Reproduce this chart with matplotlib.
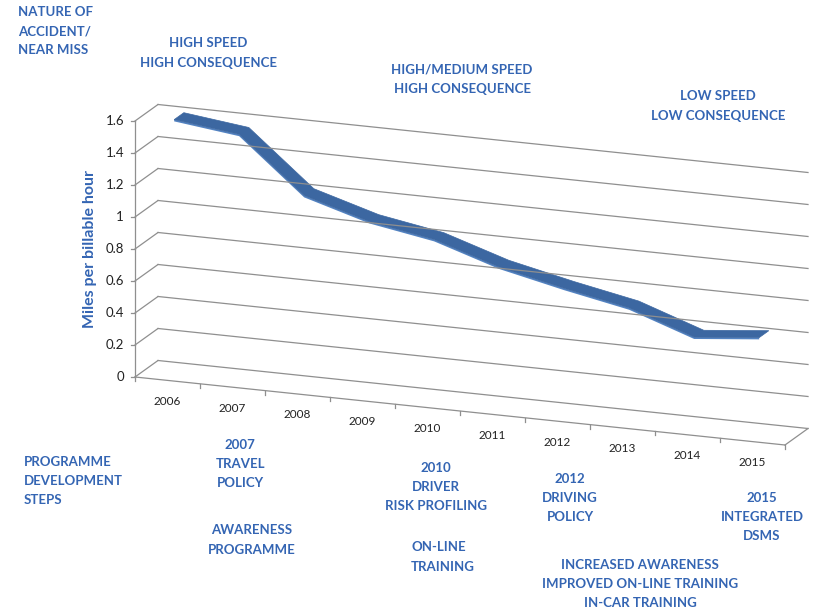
import numpy as np
import matplotlib
matplotlib.use("Agg")
import matplotlib.pyplot as plt
from matplotlib.transforms import Affine2D
from matplotlib.patches import Polygon

years = ["2006", "2007", "2008", "2009", "2010", "2011", "2012", "2013", "2014", "2015"]
miles = [1.60, 1.55, 1.21, 1.09, 1.02, 0.89, 0.80, 0.72, 0.58, 0.62]
y_ticks = [0, 0.2, 0.4, 0.6, 0.8, 1, 1.2, 1.4, 1.6]
y_labels = ["0", "0.2", "0.4", "0.6", "0.8", "1", "1.2", "1.4", "1.6"]

BLUE = "#3465b3"
GRID = "#8f8f8f"
plt.rcParams['font.family'] = ['Lato', 'DejaVu Sans']

fig = plt.figure(figsize=(8.13, 6.11), dpi=100)
ax = fig.add_axes([0, 0, 1, 1])
ax.set_xlim(0, 813)
ax.set_ylim(611, 0)
ax.axis('off')


def proj(d):
    # fake excel 3d: category index / value / depth (0 front, 1 back) -> figure frame
    return Affine2D(np.array([[65.0, 0.0, 135 + 23 * d],
                              [6.8, -160.0, 377 - 16.5 * d],
                              [0.0, 0.0, 1.0]]))


front, back = proj(0), proj(1)
n = len(years)


def seg(p, q, tr_p, tr_q, **kw):
    a = tr_p.transform(p)
    b = tr_q.transform(q)
    ax.plot([a[0], b[0]], [a[1], b[1]], **kw)


# walls + gridlines
for v, lab in zip(y_ticks, y_labels):
    seg((0, v), (0, v), front, back, color=GRID, lw=0.9)
    seg((0, v), (n, v), back, back, color=GRID, lw=0.9)
    a = front.transform((0, v))
    ax.plot([a[0] - 4, a[0]], [a[1], a[1]], color=GRID, lw=0.9)
    ax.text(a[0] - 11, a[1], lab, ha='right', va='center', fontsize=9.5, color='#222222')

seg((0, 0), (0, max(y_ticks)), front, front, color=GRID, lw=0.9)
seg((0, 0), (n, 0), front, front, color=GRID, lw=0.9)
seg((n, 0), (n, 0), front, back, color=GRID, lw=0.9)
for i in range(n + 1):
    a = front.transform((i, 0))
    ax.plot([a[0], a[0]], [a[1], a[1] + 4], color=GRID, lw=0.9)
for i, yr in enumerate(years):
    a = front.transform((i + 0.5, 0))
    ax.text(a[0], a[1] + 21, yr, ha='center', va='center', fontsize=8.5, color='#222222')

# ribbon
xs = np.arange(n) + 0.5
vals = np.array(miles)
thick = 0.011
d1, d2 = 0.29, 0.71
top_front = proj(d1).transform(np.column_stack([xs, vals]))
top_back = proj(d2).transform(np.column_stack([xs, vals]))
bot_front = proj(d1).transform(np.column_stack([xs, vals - thick]))
ax.add_patch(Polygon(np.vstack([top_front, bot_front[::-1]]), closed=True,
                     facecolor='#5383c2', edgecolor='none'))
ax.add_patch(Polygon(np.vstack([top_front, top_back[::-1]]), closed=True,
                     facecolor='#3c67a1', edgecolor='#3c67a1', lw=0.5))

# axis title
ax.text(90, 249, "Miles per billable hour", rotation=90, ha='center', va='center',
        fontsize=11.5, fontweight='bold', color=BLUE)

kw = dict(fontsize=9.5, fontweight='bold', color=BLUE, linespacing=1.72)
ax.text(18, 31, "NATURE OF\nACCIDENT/\nNEAR MISS", ha='left', va='center', **kw)
ax.text(208, 53, "HIGH SPEED\nHIGH CONSEQUENCE", ha='center', va='center', multialignment='center', **kw)
ax.text(462, 79, "HIGH/MEDIUM SPEED\nHIGH CONSEQUENCE", ha='center', va='center', multialignment='center', **kw)
ax.text(718, 106, "LOW SPEED\nLOW CONSEQUENCE", ha='center', va='center', multialignment='center', **kw)
ax.text(24, 481, "PROGRAMME\nDEVELOPMENT\nSTEPS", ha='left', va='center', **kw)
ax.text(240, 464, "2007\nTRAVEL\nPOLICY", ha='center', va='center', multialignment='center', **kw)
ax.text(252, 540, "AWARENESS\nPROGRAMME", ha='center', va='center', multialignment='center', **kw)
ax.text(436, 487, "2010\nDRIVER\nRISK PROFILING", ha='center', va='center', multialignment='center', **kw)
ax.text(411, 557, "ON-LINE\nTRAINING", ha='left', va='center', **kw)
ax.text(570, 498, "2012\nDRIVING\nPOLICY", ha='center', va='center', multialignment='center', **kw)
ax.text(762, 517, "2015\nINTEGRATED\nDSMS", ha='center', va='center', multialignment='center', **kw)
ax.text(640, 584, "INCREASED AWARENESS\nIMPROVED ON-LINE TRAINING\nIN-CAR TRAINING",
        ha='center', va='center', multialignment='center', **kw)

fig.savefig("out.png", dpi=100)
